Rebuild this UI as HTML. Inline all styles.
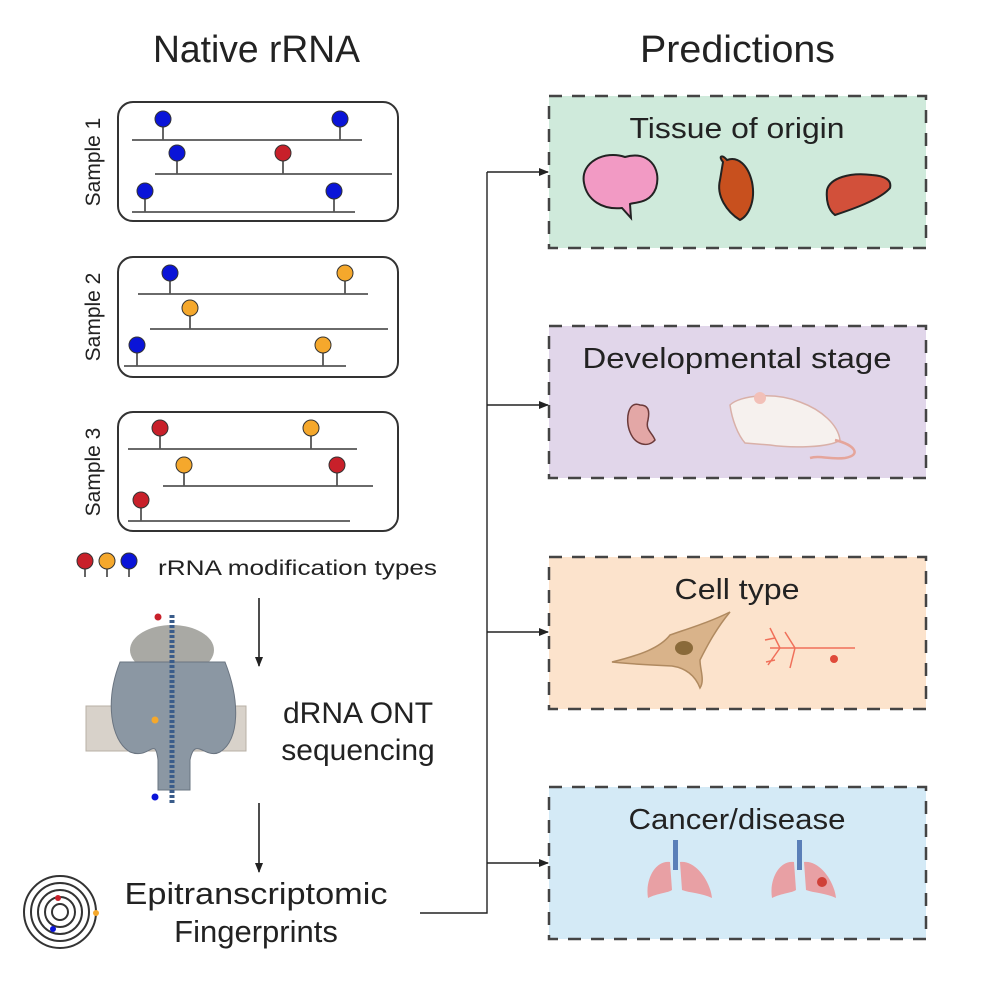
<!DOCTYPE html>
<html><head><meta charset="utf-8"><style>
html,body{margin:0;padding:0;background:#fff}
svg{display:block}
text{font-family:"Liberation Sans",sans-serif;fill:#222}
</style></head><body>
<svg width="1000" height="1000" viewBox="0 0 1000 1000" xmlns="http://www.w3.org/2000/svg">
<defs>
<marker id="ah" markerWidth="10" markerHeight="10" refX="9" refY="5" orient="auto" markerUnits="userSpaceOnUse">
<path d="M0,1 L10,5 L0,9 Z" fill="#222"/></marker>
</defs>
<text x="153" y="62" font-size="38" textLength="207" lengthAdjust="spacingAndGlyphs">Native rRNA</text>
<text x="640" y="62" font-size="38" textLength="195" lengthAdjust="spacingAndGlyphs">Predictions</text>

<g fill="none" stroke="#333" stroke-width="2">
<rect x="118" y="102" width="280" height="119" rx="15"/>
<rect x="118" y="257" width="280" height="120" rx="15"/>
<rect x="118" y="412" width="280" height="119" rx="15"/>
</g>
<g font-size="21">
<text transform="translate(100,162) rotate(-90)" text-anchor="middle">Sample 1</text>
<text transform="translate(100,317) rotate(-90)" text-anchor="middle">Sample 2</text>
<text transform="translate(100,472) rotate(-90)" text-anchor="middle">Sample 3</text>
</g>
<g stroke="#555" stroke-width="1.8">
<line x1="132" y1="140" x2="362" y2="140"/><line x1="155" y1="174" x2="392" y2="174"/><line x1="132" y1="212" x2="355" y2="212"/>
<line x1="138" y1="294" x2="368" y2="294"/><line x1="150" y1="329" x2="388" y2="329"/><line x1="124" y1="366" x2="346" y2="366"/>
<line x1="128" y1="449" x2="357" y2="449"/><line x1="163" y1="486" x2="373" y2="486"/><line x1="128" y1="521" x2="350" y2="521"/>
</g>
<g stroke="#555" stroke-width="1.8">
<path d="M163,119V140M340,119V140M177,153V174M283,153V174M145,191V212M334,191V212
M170,273V294M345,273V294M190,308V329M137,345V366M323,345V366
M160,428V449M311,428V449M184,465V486M337,465V486M141,500V521
M85,563V577M107,563V577M129,563V577"/>
</g>
<g stroke="#333" stroke-width="1">
<circle cx="163" cy="119" r="8" fill="#0a14d8"/><circle cx="340" cy="119" r="8" fill="#0a14d8"/>
<circle cx="177" cy="153" r="8" fill="#0a14d8"/><circle cx="283" cy="153" r="8" fill="#c8202a"/>
<circle cx="145" cy="191" r="8" fill="#0a14d8"/><circle cx="334" cy="191" r="8" fill="#0a14d8"/>
<circle cx="170" cy="273" r="8" fill="#0a14d8"/><circle cx="345" cy="273" r="8" fill="#f5a82c"/>
<circle cx="190" cy="308" r="8" fill="#f5a82c"/>
<circle cx="137" cy="345" r="8" fill="#0a14d8"/><circle cx="323" cy="345" r="8" fill="#f5a82c"/>
<circle cx="160" cy="428" r="8" fill="#c8202a"/><circle cx="311" cy="428" r="8" fill="#f5a82c"/>
<circle cx="184" cy="465" r="8" fill="#f5a82c"/><circle cx="337" cy="465" r="8" fill="#c8202a"/>
<circle cx="141" cy="500" r="8" fill="#c8202a"/>
<circle cx="85" cy="561" r="8" fill="#c8202a"/><circle cx="107" cy="561" r="8" fill="#f5a82c"/><circle cx="129" cy="561" r="8" fill="#0a14d8"/>
</g>
<text x="158" y="575" font-size="21" textLength="279" lengthAdjust="spacingAndGlyphs">rRNA modification types</text>

<g stroke="#222" stroke-width="1.6">
<line x1="259" y1="598" x2="259" y2="666" marker-end="url(#ah)"/>
<line x1="259" y1="803" x2="259" y2="872" marker-end="url(#ah)"/>
</g>

<rect x="86" y="706" width="160" height="45" fill="#d8d2ca" stroke="#b8b0a6"/>
<ellipse cx="172" cy="650" rx="42" ry="25" fill="#a9a9a4"/>
<path d="M120,662 C105,700 110,740 130,752 C150,760 155,735 158,760 L158,790 L190,790 L190,760 C195,735 205,760 220,752 C240,740 240,700 225,662 Z" fill="#8b97a3" stroke="#6a7480"/>
<line x1="172" y1="615" x2="172" y2="805" stroke="#3a5c8a" stroke-width="5" stroke-dasharray="3 2"/>
<circle cx="158" cy="617" r="3.5" fill="#c8202a"/><circle cx="155" cy="720" r="3.5" fill="#f5a82c"/><circle cx="155" cy="797" r="3.5" fill="#0a14d8"/>
<text x="358" y="723" font-size="30" text-anchor="middle">dRNA ONT</text>
<text x="358" y="760" font-size="30" text-anchor="middle">sequencing</text>

<g fill="none" stroke="#333" stroke-width="2">
<circle cx="60" cy="912" r="36"/><circle cx="60" cy="912" r="29"/><circle cx="60" cy="912" r="22"/><circle cx="60" cy="912" r="15"/><circle cx="60" cy="912" r="8"/>
</g>
<circle cx="58" cy="898" r="3" fill="#c8202a"/><circle cx="96" cy="913" r="3" fill="#f5a82c"/><circle cx="53" cy="929" r="3" fill="#0a14d8"/>
<text x="256" y="904" font-size="31" text-anchor="middle" textLength="263" lengthAdjust="spacingAndGlyphs">Epitranscriptomic</text>
<text x="256" y="942" font-size="31" text-anchor="middle">Fingerprints</text>

<g stroke="#222" stroke-width="1.4" fill="none">
<path d="M420,913 H487 V172"/>
<line x1="487" y1="172" x2="548" y2="172" marker-end="url(#ah)"/>
<line x1="487" y1="405" x2="548" y2="405" marker-end="url(#ah)"/>
<line x1="487" y1="632" x2="548" y2="632" marker-end="url(#ah)"/>
<line x1="487" y1="863" x2="548" y2="863" marker-end="url(#ah)"/>
</g>

<g stroke="#444" stroke-width="2.5" stroke-dasharray="13 10">
<rect x="549" y="96" width="377" height="152" fill="#cfeadb"/>
<rect x="549" y="326" width="377" height="152" fill="#e1d6ea"/>
<rect x="549" y="557" width="377" height="152" fill="#fce3cc"/>
<rect x="549" y="787" width="377" height="152" fill="#d4eaf6"/>
</g>
<g font-size="29" text-anchor="middle">
<text x="737" y="138" textLength="215" lengthAdjust="spacingAndGlyphs">Tissue of origin</text>
<text x="737" y="368" textLength="309" lengthAdjust="spacingAndGlyphs">Developmental stage</text>
<text x="737" y="599" textLength="125" lengthAdjust="spacingAndGlyphs">Cell type</text>
<text x="737" y="829" textLength="217" lengthAdjust="spacingAndGlyphs">Cancer/disease</text>
</g>

<path d="M584,183 C580,162 605,150 625,157 C648,150 662,168 656,188 C650,204 635,202 630,204 L631,218 L622,208 C602,210 587,200 584,183 Z" fill="#f29ac4" stroke="#222" stroke-width="2"/>
<path d="M723,162 C718,156 722,154 727,160 C738,156 748,165 752,182 C756,202 748,216 740,220 C727,212 716,196 720,180 Z" fill="#c8501e" stroke="#222" stroke-width="2"/>
<path d="M827,190 C830,178 850,172 872,175 C885,176 892,180 890,188 C880,200 850,210 835,215 C828,210 826,200 827,190 Z" fill="#d2503a" stroke="#222" stroke-width="2"/>

<path d="M640,405 C628,400 625,420 630,432 C635,445 648,448 655,440 C652,432 645,430 648,420 C650,410 648,405 640,405 Z" fill="#e3a7a6" stroke="#6b3a3a" stroke-width="1.5"/>
<path d="M730,405 C740,395 775,392 800,402 C822,410 838,425 840,440 C830,448 790,448 770,445 L745,443 C738,435 732,420 730,405 Z" fill="#f6f1ee" stroke="#d9b0a8" stroke-width="1.5"/>
<path d="M835,440 C855,445 862,455 845,458 C830,460 820,455 810,458" fill="none" stroke="#e5a59b" stroke-width="2.5"/>
<circle cx="760" cy="398" r="6" fill="#f2c0b8"/>

<path d="M612,662 C640,655 660,648 670,635 C690,628 710,622 730,612 C715,630 705,650 700,660 C700,670 705,680 700,688 C695,675 685,668 672,666 C650,665 630,664 612,662 Z" fill="#d9b38a" stroke="#b08a60" stroke-width="1.5"/>
<ellipse cx="684" cy="648" rx="9" ry="7" fill="#8a6a3a"/>
<g stroke="#f0705a" stroke-width="1.5" fill="none">
<path d="M770,648 H855 M780,648 L770,628 M780,648 L768,665 M795,648 L785,632 M795,648 L790,668 M775,638 L765,640 M775,660 L766,662"/>
</g>
<circle cx="834" cy="659" r="4" fill="#e04a3a"/>

<g>
<rect x="673" y="840" width="5" height="30" fill="#5a7fb8"/>
<path d="M670,862 C655,860 645,880 648,898 C658,893 668,893 672,890 Z" fill="#e8a0a4"/>
<path d="M680,862 C695,860 710,880 712,898 C702,893 690,893 682,890 Z" fill="#e8a0a4"/>
<rect x="797" y="840" width="5" height="30" fill="#5a7fb8"/>
<path d="M794,862 C779,860 769,880 772,898 C782,893 792,893 796,890 Z" fill="#e8a0a4"/>
<path d="M804,862 C819,860 834,880 836,898 C826,893 814,893 806,890 Z" fill="#e8a0a4"/>
<circle cx="822" cy="882" r="5" fill="#d04038"/>
</g>
</svg>
</body></html>
